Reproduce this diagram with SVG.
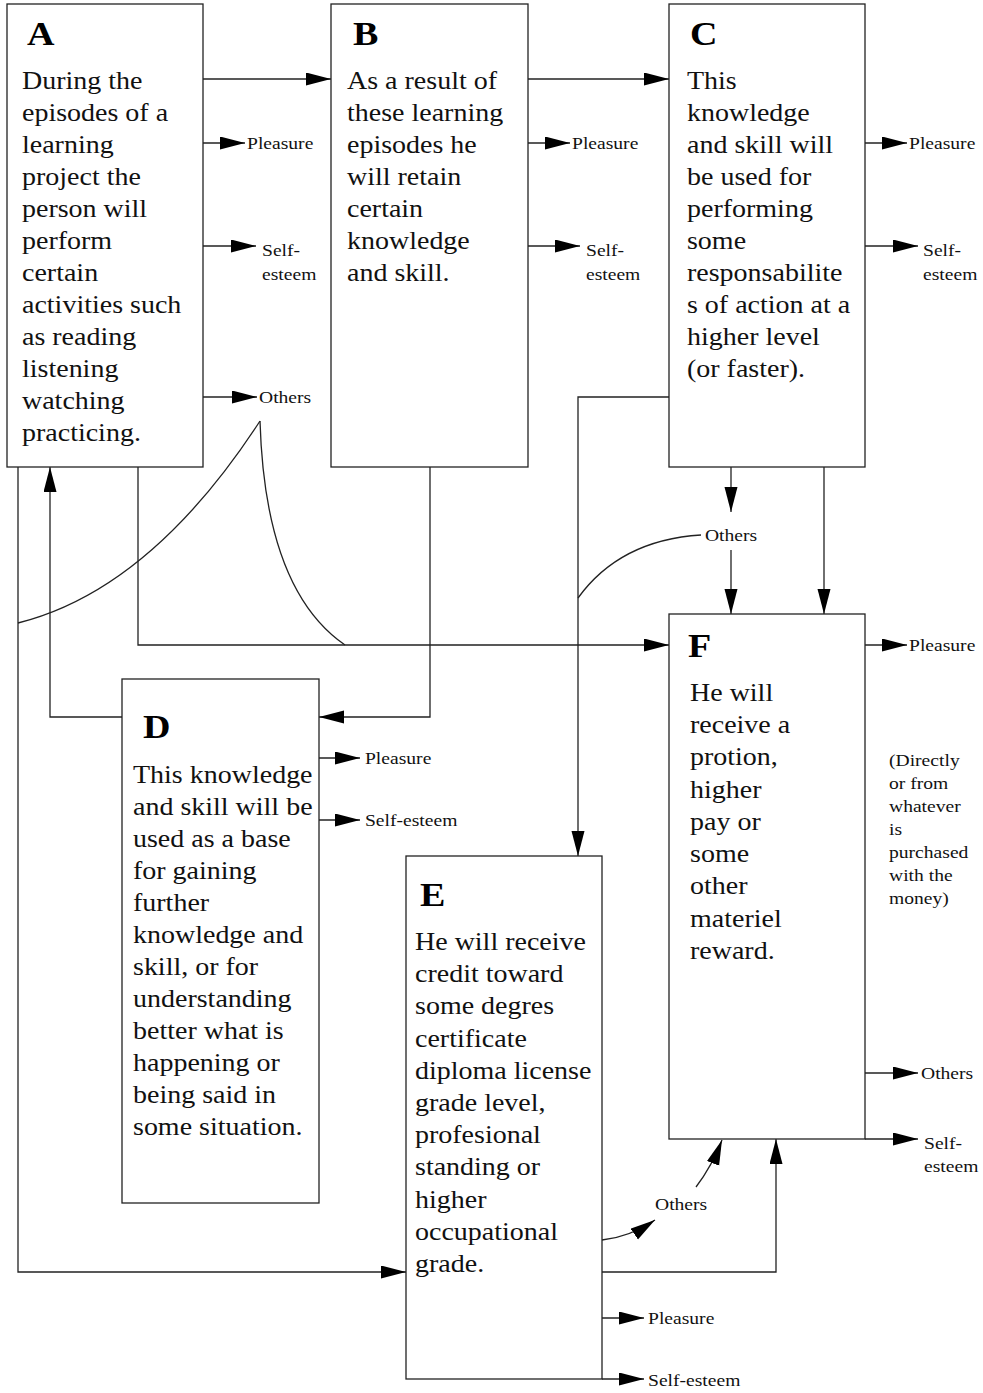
<svg xmlns="http://www.w3.org/2000/svg" width="983" height="1393" viewBox="0 0 983 1393">
<style>
.box{fill:#fff;stroke:#222;stroke-width:1.3}
.c{fill:none;stroke:#222;stroke-width:1.3}
.t{font-family:"Liberation Serif","Times New Roman",serif;font-size:25px;fill:#111}
.h{font-family:"Liberation Serif","Times New Roman",serif;font-size:34px;font-weight:bold;fill:#000}
.s{font-family:"Liberation Serif","Times New Roman",serif;font-size:17.5px;fill:#111}
</style>
<defs>
<marker id="ar" markerUnits="userSpaceOnUse" markerWidth="27" markerHeight="14" refX="25" refY="6.5" orient="auto">
<path d="M0,0 L25,6.5 L0,13 z" fill="#000"/>
</marker>
</defs>
<rect width="983" height="1393" fill="#fff"/>

<g id="connectors" class="c" marker-end="url(#ar)">
<path d="M203,79 H331"/>
<path d="M528,79 H669"/>
<path d="M203,143 H245"/>
<path d="M203,246 H256"/>
<path d="M203,397 H257"/>
<path d="M528,143 H570"/>
<path d="M528,246 H580"/>
<path d="M865,143 H907"/>
<path d="M865,246 H918"/>
<path d="M319,758 H360"/>
<path d="M319,820 H360"/>
<path d="M602,1318 H644"/>
<path d="M602,1379 H644"/>
<path d="M865,645 H907"/>
<path d="M865,1073 H918"/>
<path d="M865,1139 H918"/>
<path d="M18,467 V1272 H406"/>
<path d="M122,717 H50 V467"/>
<path d="M138,467 V645 H669"/>
<path d="M430,467 V717 H319"/>
<path d="M669,397 H578 V856"/>
<path d="M731,467 V512"/>
<path d="M731,550 V614"/>
<path d="M824,467 V614"/>
<path d="M602,1272 H776 V1139"/>
<path d="M602,1240 Q630,1237 655,1220"/>
<path d="M696,1187 Q712,1166 722,1140"/>
<path d="M260,421 Q150,590 18,623" marker-end="none"/>
<path d="M260,421 Q265,590 345,645" marker-end="none"/>
<path d="M701,535 Q620,540 578,598" marker-end="none"/>
</g>

<g id="A">
<rect class="box" x="7" y="4" width="196" height="463"/>
<g transform="scale(1.12,1)">
<text class="h" x="24.1" y="45">A</text>
<text class="t" x="19.64" y="89">
<tspan x="19.64">During the</tspan>
<tspan x="19.64" dy="32">episodes of a</tspan>
<tspan x="19.64" dy="32">learning</tspan>
<tspan x="19.64" dy="32">project the</tspan>
<tspan x="19.64" dy="32">person will</tspan>
<tspan x="19.64" dy="32">perform</tspan>
<tspan x="19.64" dy="32">certain</tspan>
<tspan x="19.64" dy="32">activities such</tspan>
<tspan x="19.64" dy="32">as reading</tspan>
<tspan x="19.64" dy="32">listening</tspan>
<tspan x="19.64" dy="32">watching</tspan>
<tspan x="19.64" dy="32">practicing.</tspan>
</text>
</g>
</g>

<g id="B">
<rect class="box" x="331" y="4" width="197" height="463"/>
<g transform="scale(1.12,1)">
<text class="h" x="315.18" y="45">B</text>
<text class="t" x="309.82" y="89">
<tspan x="309.82">As a result of</tspan>
<tspan x="309.82" dy="32">these learning</tspan>
<tspan x="309.82" dy="32">episodes he</tspan>
<tspan x="309.82" dy="32">will retain</tspan>
<tspan x="309.82" dy="32">certain</tspan>
<tspan x="309.82" dy="32">knowledge</tspan>
<tspan x="309.82" dy="32">and skill.</tspan>
</text>
</g>
</g>

<g id="C">
<rect class="box" x="669" y="4" width="196" height="463"/>
<g transform="scale(1.12,1)">
<text class="h" x="616.07" y="45">C</text>
<text class="t" x="613.39" y="89">
<tspan x="613.39">This</tspan>
<tspan x="613.39" dy="32">knowledge</tspan>
<tspan x="613.39" dy="32">and skill will</tspan>
<tspan x="613.39" dy="32">be used for</tspan>
<tspan x="613.39" dy="32">performing</tspan>
<tspan x="613.39" dy="32">some</tspan>
<tspan x="613.39" dy="32">responsabilite</tspan>
<tspan x="613.39" dy="32">s of action at a</tspan>
<tspan x="613.39" dy="32">higher level</tspan>
<tspan x="613.39" dy="32">(or faster).</tspan>
</text>
</g>
</g>

<g id="D">
<rect class="box" x="122" y="679" width="197" height="524"/>
<g transform="scale(1.12,1)">
<text class="h" x="127.68" y="738">D</text>
<text class="t" x="118.75" y="783">
<tspan x="118.75">This knowledge</tspan>
<tspan x="118.75" dy="32">and skill will be</tspan>
<tspan x="118.75" dy="32">used as a base</tspan>
<tspan x="118.75" dy="32">for gaining</tspan>
<tspan x="118.75" dy="32">further</tspan>
<tspan x="118.75" dy="32">knowledge and</tspan>
<tspan x="118.75" dy="32">skill, or for</tspan>
<tspan x="118.75" dy="32">understanding</tspan>
<tspan x="118.75" dy="32">better what is</tspan>
<tspan x="118.75" dy="32">happening or</tspan>
<tspan x="118.75" dy="32">being said in</tspan>
<tspan x="118.75" dy="32">some situation.</tspan>
</text>
</g>
</g>

<g id="E">
<rect class="box" x="406" y="856" width="196" height="523"/>
<g transform="scale(1.12,1)">
<text class="h" x="375" y="906">E</text>
<text class="t" x="370.54" y="950">
<tspan x="370.54">He will receive</tspan>
<tspan x="370.54" dy="32.2">credit toward</tspan>
<tspan x="370.54" dy="32.2">some degres</tspan>
<tspan x="370.54" dy="32.2">certificate</tspan>
<tspan x="370.54" dy="32.2">diploma license</tspan>
<tspan x="370.54" dy="32.2">grade level,</tspan>
<tspan x="370.54" dy="32.2">profesional</tspan>
<tspan x="370.54" dy="32.2">standing or</tspan>
<tspan x="370.54" dy="32.2">higher</tspan>
<tspan x="370.54" dy="32.2">occupational</tspan>
<tspan x="370.54" dy="32.2">grade.</tspan>
</text>
</g>
</g>

<g id="F">
<rect class="box" x="669" y="614" width="196" height="525"/>
<g transform="scale(1.12,1)">
<text class="h" x="614.29" y="657">F</text>
<text class="t" x="616.07" y="701">
<tspan x="616.07">He will</tspan>
<tspan x="616.07" dy="32.25">receive a</tspan>
<tspan x="616.07" dy="32.25">protion,</tspan>
<tspan x="616.07" dy="32.25">higher</tspan>
<tspan x="616.07" dy="32.25">pay or</tspan>
<tspan x="616.07" dy="32.25">some</tspan>
<tspan x="616.07" dy="32.25">other</tspan>
<tspan x="616.07" dy="32.25">materiel</tspan>
<tspan x="616.07" dy="32.25">reward.</tspan>
</text>
</g>
</g>

<g id="labels" transform="scale(1.12,1)">
<text class="s" x="220.54" y="149">Pleasure</text>
<text class="s" x="233.93" y="256">Self-</text>
<text class="s" x="233.93" y="280">esteem</text>
<text class="s" x="231.25" y="403">Others</text>
<text class="s" x="510.71" y="149">Pleasure</text>
<text class="s" x="523.21" y="256">Self-</text>
<text class="s" x="523.21" y="280">esteem</text>
<text class="s" x="811.61" y="149">Pleasure</text>
<text class="s" x="824.11" y="256">Self-</text>
<text class="s" x="824.11" y="280">esteem</text>
<text class="s" x="629.46" y="541">Others</text>
<text class="s" x="325.89" y="764">Pleasure</text>
<text class="s" x="325.89" y="826">Self-esteem</text>
<text class="s" x="811.61" y="651">Pleasure</text>
<text class="s" x="793.75" y="766">
<tspan x="793.75">(Directly</tspan>
<tspan x="793.75" dy="23">or from</tspan>
<tspan x="793.75" dy="23">whatever</tspan>
<tspan x="793.75" dy="23">is</tspan>
<tspan x="793.75" dy="23">purchased</tspan>
<tspan x="793.75" dy="23">with the</tspan>
<tspan x="793.75" dy="23">money)</tspan>
</text>
<text class="s" x="822.32" y="1079">Others</text>
<text class="s" x="825" y="1149">Self-</text>
<text class="s" x="825" y="1172">esteem</text>
<text class="s" x="584.82" y="1210">Others</text>
<text class="s" x="578.57" y="1324">Pleasure</text>
<text class="s" x="578.57" y="1386">Self-esteem</text>
</g>
</svg>
